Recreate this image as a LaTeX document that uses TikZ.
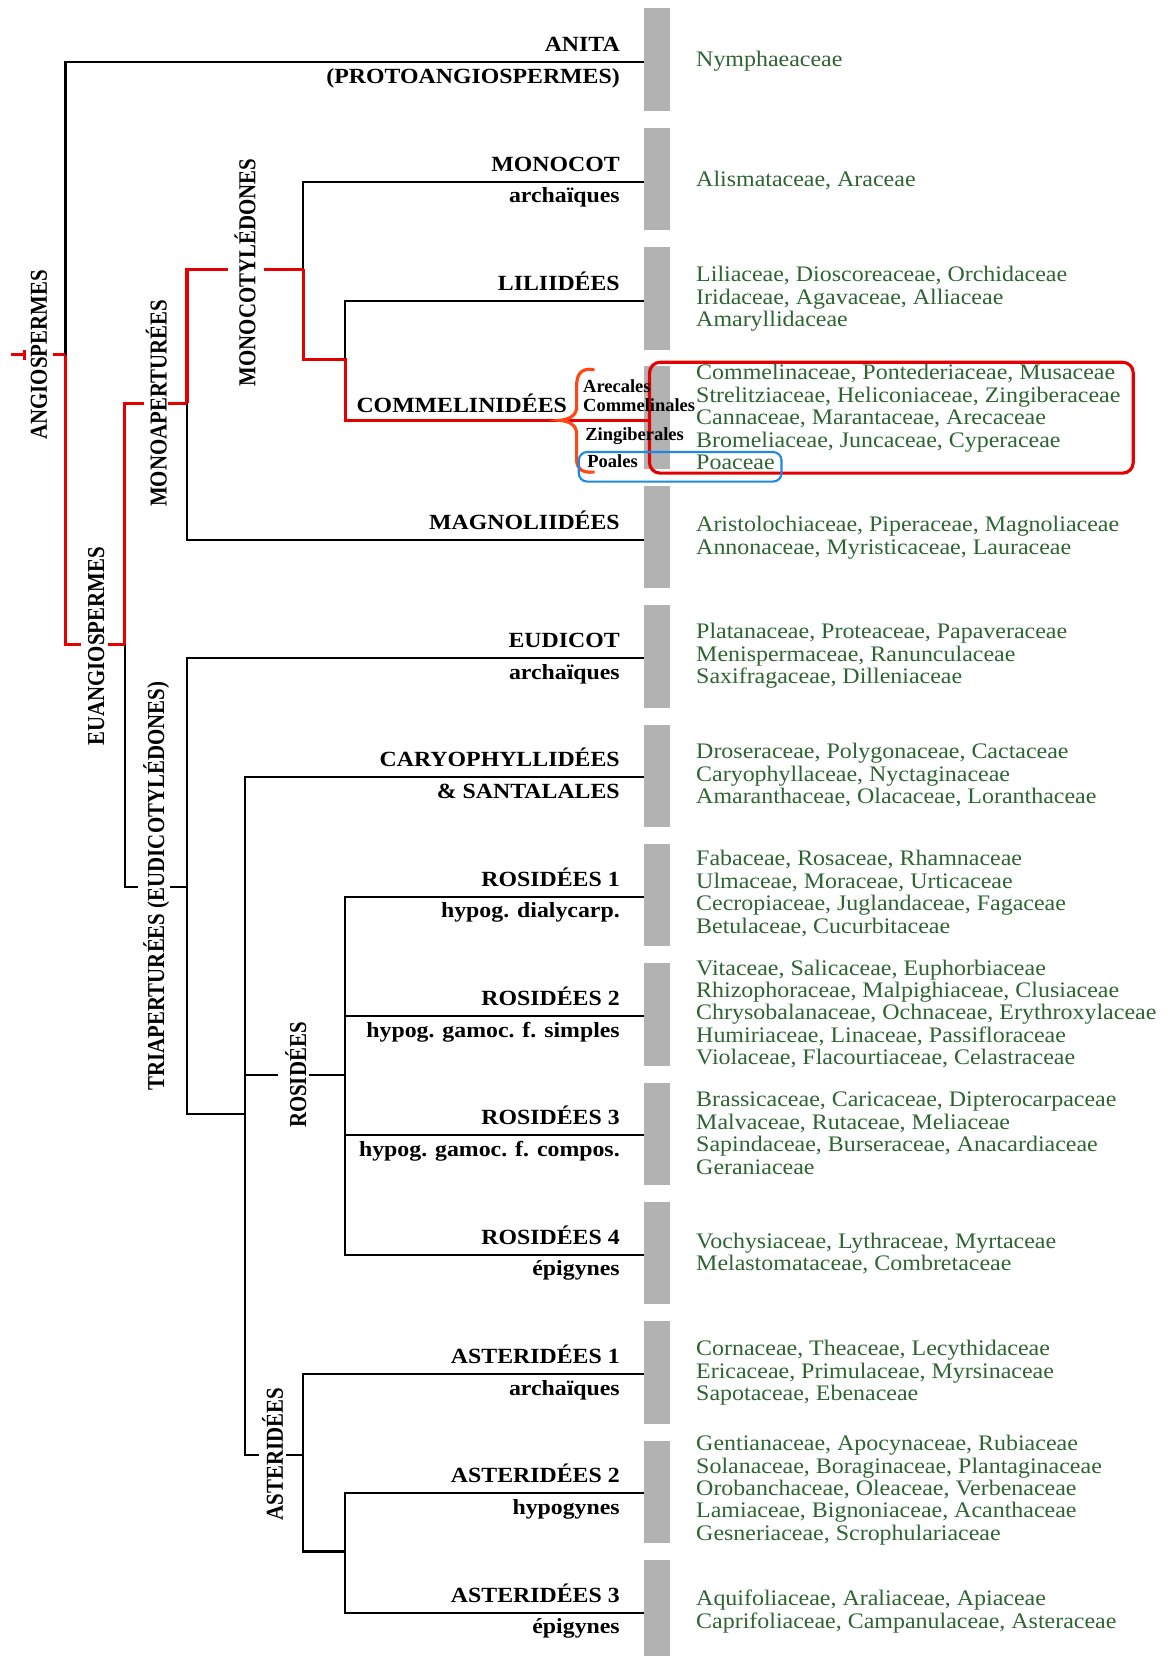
\documentclass[tikz,border=0pt]{standalone}
\usepackage{fontspec}
\setmainfont{Liberation Serif}
\newfontfamily\grnf[FakeStretch=1.08]{Liberation Serif}
\newfontfamily\lblf[FakeStretch=1.1]{Liberation Serif}
\newfontfamily\rotf[FakeStretch=0.86]{Liberation Serif}
\definecolor{grn}{RGB}{45,100,50}
\definecolor{barg}{RGB}{178,178,178}
\definecolor{tred}{RGB}{228,0,0}
\definecolor{brc}{RGB}{255,72,20}
\definecolor{bxblue}{RGB}{30,136,229}
\begin{document}
\begin{tikzpicture}[x=1pt,y=-1pt,
  blk/.style={line width=2pt, black, line join=miter},
  rd/.style={line width=3pt, tred, line join=miter},
  bar/.style={fill=barg, draw=none, minimum width=24pt, minimum height=97pt, inner sep=0pt},
  fam/.style={anchor=west, align=left, text=grn, inner sep=0pt, font=\grnf\fontsize{21}{21.2}\selectfont},
  lbl/.style={anchor=base east, inner sep=0pt, font=\lblf\bfseries\fontsize{20.5}{22}\selectfont},
  rlbl/.style={rotate=90, inner sep=0pt, font=\rotf\bfseries\fontsize{23}{24}\selectfont},
  sml/.style={anchor=base west, inner sep=0pt, font=\bfseries\fontsize{17.5}{18}\selectfont},
]
\useasboundingbox (0,0) rectangle (1111,1568);

% grey bars
\foreach \k in {0,...,12} { \node[bar] (b\k) at (622,56.5+113*\k) {}; }
\node[bar, minimum height=91pt] (b13) at (622,1522.5) {};

% junction coordinates
\coordinate (r0) at (10,336);
\coordinate (n1) at (62,336);
\coordinate (a0) at (62,59);
\coordinate (n2) at (62,610);
\coordinate (n2b) at (118,610);
\coordinate (n3) at (118,382);
\coordinate (n3b) at (177,382);
\coordinate (n4) at (177,255);
\coordinate (mg) at (177,511);
\coordinate (n4b) at (287,255);
\coordinate (mc) at (287,172);
\coordinate (n5) at (287,340);
\coordinate (n5b) at (327,340);
\coordinate (li) at (327,285);
\coordinate (cm) at (327,398);
\coordinate (n6) at (118,840);
\coordinate (n6b) at (177,840);
\coordinate (eu) at (177,623);
\coordinate (n7) at (177,1055);
\coordinate (n7b) at (232,1055);
\coordinate (ca) at (232,736);
\coordinate (n8) at (232,1018);
\coordinate (n8b) at (327,1018);
\coordinate (r1) at (327,849);
\coordinate (r2) at (327,962);
\coordinate (r3) at (327,1075);
\coordinate (r4) at (327,1188);
\coordinate (n9) at (232,1378);
\coordinate (n9b) at (287,1378);
\coordinate (s1) at (287,1301);
\coordinate (n10) at (287,1469);
\coordinate (n10b) at (327,1469);
\coordinate (s2) at (327,1414);
\coordinate (s3) at (327,1527);

% red box (Commelinidees)
\node[draw=tred, line width=3pt, rounded corners=10pt, minimum width=458pt, minimum height=105pt, inner sep=0pt] (rbox) at (844,395.5) {};

% black branches
\draw[blk] (n1) -- (a0) -- (a0 -| b0.west);
\draw[blk] (mc -| b1.west) -- (mc) -- (n4b);
\draw[blk] (li -| b2.west) -- (li) -- (n5b);
\draw[blk] (n3b) -- (mg) -- (mg -| b4.west);
\draw[blk] (n2b) -- (n6) -- +(13,0);
\draw[blk] (n6b) -- +(-16,0);
\draw[blk] (eu -| b5.west) -- (eu) -- (n7) -- (n7b);
\draw[blk] (ca -| b6.west) -- (ca) -- (n9) -- +(13,0);
\draw[blk] (n9b) -- +(-16,0);
\draw[blk] (n8) -- +(31,0);
\draw[blk] (n8b) -- +(-34,0);
\draw[blk] (r1 -| b7.west) -- (r1) -- (r4) -- (r4 -| b10.west);
\draw[blk] (r2) -- (r2 -| b8.west);
\draw[blk] (r3) -- (r3 -| b9.west);
\draw[blk] (s1 -| b11.west) -- (s1) -- (n10) -- (n10b);
\draw[blk] (s2 -| b12.west) -- (s2) -- (s3) -- (s3 -| b13.west);

% red branches
\draw[rd] (r0) -- +(13,0);
\draw[tred, line width=2.5pt] (23,331) -- (23,341);
\draw[rd] (n1) -- +(-12,0);
\draw[rd] (n1) -- (n2) -- +(15,0);
\draw[rd] (n2b) -- +(-16,0);
\draw[rd] (n2b) -- (n3) -- +(18,0);
\draw[rd] (n3b) -- +(-18,0);
\draw[rd] (n3b) -- (n4) -- +(39,0);
\draw[rd] (n4b) -- +(-37,0);
\draw[rd] (n4b) -- (n5) -- (n5b) -- (cm) -- (cm -| rbox.west);

% brace
\draw[brc, line width=3pt, line cap=round]
  (562,350) .. controls (550,348) and (546,355) .. (546,365) -- (546,385)
  .. controls (546,393) and (540,397) .. (530,398)
  .. controls (540,399) and (546,403) .. (546,411) -- (546,435)
  .. controls (546,443) and (550,448) .. (562,447);

% rotated clade labels
\node[rlbl] (lang) at (37,336) {ANGIOSPERMES};
\node[rlbl] (leua) at (91,612) {EUANGIOSPERMES};
\node[rlbl] (lmap) at (148,382) {MONOAPERTURÉES};
\node[rlbl] (lmco) at (232,258) {MONOCOTYLÉDONES};
\node[rlbl] (ltri) at (148,839) {TRIAPERTURÉES (EUDICOTYLÉDONES)};
\node[rlbl] (lros) at (280,1018) {ROSIDÉES};
\node[rlbl] (last) at (258,1377) {ASTERIDÉES};

% horizontal labels
\node[lbl] (t0) at (587,49) {ANITA};
\node[lbl] (u0) at (587,79) {(PROTOANGIOSPERMES)};
\node[lbl] (t1) at (587,162) {MONOCOT};
\node[lbl] (u1) at (587,192) {archaïques};
\node[lbl] (t2) at (587,275) {LILIIDÉES};
\node[lbl] (t3) at (537,391) {COMMELINIDÉES};
\node[lbl] (t4) at (587,501) {MAGNOLIIDÉES};
\node[lbl] (t5) at (587,613) {EUDICOT};
\node[lbl] (u5) at (587,643) {archaïques};
\node[lbl] (t6) at (587,726) {CARYOPHYLLIDÉES};
\node[lbl] (u6) at (587,756) {\& SANTALALES};
\node[lbl] (t7) at (587,839) {ROSIDÉES 1};
\node[lbl] (u7) at (587,869) {hypog. dialycarp.};
\node[lbl] (t8) at (587,952) {ROSIDÉES 2};
\node[lbl] (u8) at (587,982) {hypog. gamoc. f. simples};
\node[lbl] (t9) at (587,1065) {ROSIDÉES 3};
\node[lbl] (u9) at (587,1095) {hypog. gamoc. f. compos.};
\node[lbl] (t10) at (587,1178) {ROSIDÉES 4};
\node[lbl] (u10) at (587,1208) {épigynes};
\node[lbl] (t11) at (587,1291) {ASTERIDÉES 1};
\node[lbl] (u11) at (587,1321) {archaïques};
\node[lbl] (t12) at (587,1404) {ASTERIDÉES 2};
\node[lbl] (u12) at (587,1434) {hypogynes};
\node[lbl] (t13) at (587,1517) {ASTERIDÉES 3};
\node[lbl] (u13) at (587,1547) {épigynes};

% orders in Commelinidees
\node[sml] (o1) at (552,372) {Arecales};
\node[sml] (o2) at (552,390) {Commelinales};
\node[sml] (o3) at (554,417) {Zingiberales};
\node[sml] (o4) at (556,443) {Poales};

% families
\node[fam] (f0) at (659,58) {Nymphaeaceae};
\node[fam] (f1) at (659,171) {Alismataceae, Araceae};
\node[fam] (f2) at (659,283) {Liliaceae, Dioscoreaceae, Orchidaceae\\Iridaceae, Agavaceae, Alliaceae\\Amaryllidaceae};
\node[fam] (f3) at (659,395) {Commelinaceae, Pontederiaceae, Musaceae\\Strelitziaceae, Heliconiaceae, Zingiberaceae\\Cannaceae, Marantaceae, Arecaceae\\Bromeliaceae, Juncaceae, Cyperaceae\\Poaceae};
\node[fam] (f4) at (659,509) {Aristolochiaceae, Piperaceae, Magnoliaceae\\Annonaceae, Myristicaceae, Lauraceae};
\node[fam] (f5) at (659,621) {Platanaceae, Proteaceae, Papaveraceae\\Menispermaceae, Ranunculaceae\\Saxifragaceae, Dilleniaceae};
\node[fam] (f6) at (659,734) {Droseraceae, Polygonaceae, Cactaceae\\Caryophyllaceae, Nyctaginaceae\\Amaranthaceae, Olacaceae, Loranthaceae};
\node[fam] (f7) at (659,846) {Fabaceae, Rosaceae, Rhamnaceae\\Ulmaceae, Moraceae, Urticaceae\\Cecropiaceae, Juglandaceae, Fagaceae\\Betulaceae, Cucurbitaceae};
\node[fam] (f8) at (659,960) {Vitaceae, Salicaceae, Euphorbiaceae\\Rhizophoraceae, Malpighiaceae, Clusiaceae\\Chrysobalanaceae, Ochnaceae, Erythroxylaceae\\Humiriaceae, Linaceae, Passifloraceae\\Violaceae, Flacourtiaceae, Celastraceae};
\node[fam] (f9) at (659,1073) {Brassicaceae, Caricaceae, Dipterocarpaceae\\Malvaceae, Rutaceae, Meliaceae\\Sapindaceae, Burseraceae, Anacardiaceae\\Geraniaceae};
\node[fam] (f10) at (659,1187) {Vochysiaceae, Lythraceae, Myrtaceae\\Melastomataceae, Combretaceae};
\node[fam] (f11) at (659,1300) {Cornaceae, Theaceae, Lecythidaceae\\Ericaceae, Primulaceae, Myrsinaceae\\Sapotaceae, Ebenaceae};
\node[fam] (f12) at (659,1411) {Gentianaceae, Apocynaceae, Rubiaceae\\Solanaceae, Boraginaceae, Plantaginaceae\\Orobanchaceae, Oleaceae, Verbenaceae\\Lamiaceae, Bignoniaceae, Acanthaceae\\Gesneriaceae, Scrophulariaceae};
\node[fam] (f13) at (659,1526) {Aquifoliaceae, Araliaceae, Apiaceae\\Caprifoliaceae, Campanulaceae, Asteraceae};

% blue box (Poales)
\node[draw=bxblue, line width=2pt, rounded corners=8pt, minimum width=192pt, minimum height=28pt, inner sep=0pt] (bbox) at (644,442) {};
\end{tikzpicture}
\end{document}
